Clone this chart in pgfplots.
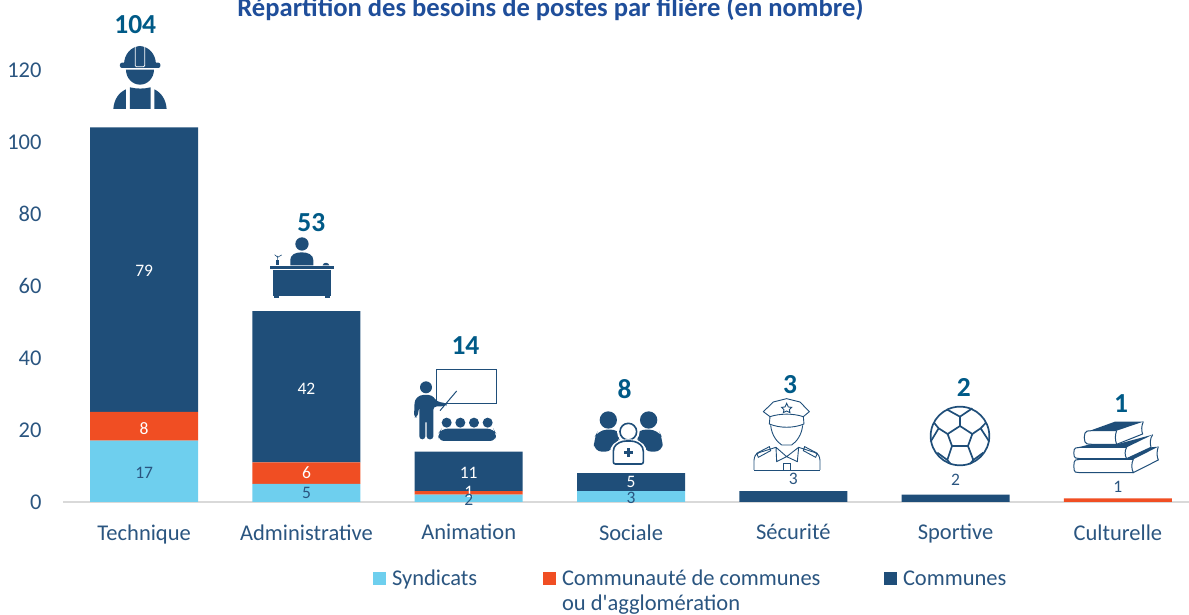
\documentclass[border=0pt]{standalone}
\usepackage{pgfplots}
\pgfplotsset{compat=1.18}
\usepackage{fontspec}
\setmainfont{Carlito}[Ligatures=TeXOff]
\definecolor{dkb}{HTML}{1F4E79}
\definecolor{org}{HTML}{F04E23}
\definecolor{ltb}{HTML}{6ECFEE}
\definecolor{ttl}{HTML}{1F4E9A}
\definecolor{tot}{HTML}{005A87}
\definecolor{txt}{HTML}{2A5580}
\definecolor{axg}{HTML}{D9D9D9}
\pgfplotsset{
  /pgfplots/sqlegend/.style={legend image code/.code={\fill[##1] (0pt,-6.5pt) rectangle (13pt,6.5pt);}}
}
\newcommand{\lab}[4]{\node[text=#4,font=\fontsize{17.5}{17}\selectfont,inner sep=0pt] at (axis cs:#1,#2) {#3};}
\newcommand{\total}[3]{\node[text=tot,font=\fontsize{27.5}{27}\selectfont\bfseries,inner sep=0pt] at (axis cs:#1,#2) {#3};}
\begin{document}
\begin{tikzpicture}[x=1pt,y=1pt]
\useasboundingbox (0,0) rectangle (1189,614);
\begin{axis}[
  at={(63pt,112.1pt)},anchor=south west,
  /pgf/number format/assume math mode=true,
  scale only axis,width=1126pt,height=501.5pt,
  ybar stacked,bar width=108pt,
  xmin=-0.5,xmax=6.438,ymin=0,ymax=139.3,
  clip=false,
  xtick={0,1,2,3,4,5,6},
  xticklabels={Technique,Administrative,Animation,Sociale,Sécurité,Sportive,Culturelle},
  ytick={0,20,40,60,80,100,120},
  tick style={draw=none},
  axis y line*=left,axis x line*=bottom,
  y axis line style={draw=none},
  x axis line style={draw=axg,line width=1.2pt,-},
  xticklabel style={text=txt,font=\fontsize{22.5}{22}\selectfont,yshift=-19pt},
  yticklabel style={text=txt,font=\fontsize{22.5}{22}\selectfont,xshift=-18pt},
  legend columns=3,
  legend cell align=left,
  legend style={draw=none,fill=none,inner sep=0pt,outer sep=0pt,anchor=north west,
    at={(310pt,-68pt)},
    font=\fontsize{22.5}{23}\selectfont,text=txt,
    nodes={inner sep=0pt},
    /tikz/every odd column/.append style={column sep=6pt}},
  area legend,sqlegend,
]
\addplot[fill=ltb,draw=none] coordinates {(0,17)(1,5)(2,2)(3,3)(4,0)(5,0)(6,0)};
\addplot[fill=org,draw=none] coordinates {(0,8)(1,6)(2,1)(3,0)(4,0)(5,0)(6,1)};
\addplot[fill=dkb,draw=none] coordinates {(0,79)(1,42)(2,11)(3,5)(4,3)(5,2)(6,0)};
\legend{\parbox[t]{151pt}{Syndicats},\parbox[t]{322pt}{Communauté de communes\\[2pt]ou d'agglomération},Communes}
\end{axis}
\begin{axis}[
  at={(63pt,112.1pt)},anchor=south west,
  scale only axis,width=1126pt,height=501.5pt,
  hide axis,clip=false,
  xmin=-0.5,xmax=6.438,ymin=0,ymax=139.3,
]
\addplot[draw=none,forget plot] coordinates {(0,0)(6,0)};
\lab{0}{64.1}{79}{white}
\lab{0}{8}{17}{txt}
\lab{0}{20.5}{8}{white}
\lab{1}{31.5}{42}{white}
\lab{1}{2.6}{5}{txt}
\lab{1}{8}{6}{white}
\lab{2}{8}{11}{white}
\lab{2}{2.8}{1}{white}
\lab{2}{0.6}{2}{txt}
\lab{3}{5.5}{5}{white}
\lab{3}{1.2}{3}{txt}
\lab{4}{6.5}{3}{txt}
\lab{5}{6}{2}{txt}
\lab{6}{4.3}{1}{txt}
\total{-0.055}{132.5}{104}
\total{1.03}{77.5}{53}
\total{1.98}{43.4}{14}
\total{2.96}{31.3}{8}
\total{3.98}{32.6}{3}
\total{5.05}{31.8}{2}
\total{6.02}{27.3}{1}
\end{axis}
\node[text=ttl,font=\fontsize{26.6}{27}\selectfont\bfseries,inner sep=0pt] at (550.5,605) {Répartition des besoins de postes par filière (en nombre)};
% Worker
\begin{scope}[shift={(0,614)},x=0.3333pt,y=-0.3333pt]
\fill[dkb] (372,195) .. controls (372,160) and (395,140) .. (420,138) .. controls (445,140) and (468,160) .. (468,195) -- cycle;
\fill[dkb,rounded corners=2pt] (360,188) rectangle (481,204);
\draw[white,line width=0.8pt,rounded corners=1pt] (406,140) -- (406,200) -- (434,200) -- (434,140);
\fill[dkb] (378,209) arc[start angle=180,end angle=0,x radius=42,y radius=45] -- cycle;
\fill[dkb] (340,327) .. controls (342,300) and (355,278) .. (378,268) -- (378,327) -- cycle;
\fill[dkb] (390,262) .. controls (410,267) and (432,267) .. (452,262) -- (452,327) -- (390,327) -- cycle;
\fill[dkb] (500,327) .. controls (498,300) and (485,278) .. (463,268) -- (463,327) -- cycle;
% Desk
\fill[dkb] (906,732) circle[radius=20];
\fill[dkb] (871,796) -- (871,780) .. controls (871,765) and (885,757) .. (905,757) .. controls (925,757) and (940,765) .. (940,780) -- (940,796) -- cycle;
\fill[dkb] (810,798) rectangle (1002,806);
\fill[dkb] (818,810) rectangle (994,888);
\fill[dkb] (822,888) rectangle (836,893);
\fill[dkb] (976,888) rectangle (990,893);
\fill[dkb] (828,780) rectangle (838,796);
\draw[dkb,line width=0.6pt] (833,780) -- (833,768) (833,772) -- (824,764) (833,772) -- (845,765);
\fill[dkb] (968,796) .. controls (970,786) and (986,786) .. (988,796) -- cycle;
\end{scope}
% Animation, Sociale
\begin{scope}[shift={(400,274)},x=0.3333pt,y=-0.3333pt]
\draw[dkb,line width=1pt] (110,90) rectangle (290,192);
\fill[dkb] (78,142) circle[radius=18];
\fill[dkb,rounded corners=3pt] (42,232) -- (44,180) -- (60,165) -- (95,165) -- (112,185) -- (140,190) -- (140,198) -- (100,200) -- (100,298) -- (80,298) -- (80,240) -- (76,240) -- (76,298) -- (58,298) -- (58,200) -- (52,232) -- cycle;
\draw[dkb,line width=1pt] (120,212) -- (170,153);
\foreach \c in {140,181,222,263} \fill[dkb] (\c,248) circle[radius=15];
\fill[dkb,rounded corners=6pt] (115,303) -- (115,280) -- (125,266) -- (280,266) -- (288,280) -- (288,303) -- cycle;
% Sociale
\fill[dkb] (625,240) circle[radius=26];
\fill[dkb] (746,240) circle[radius=26];
\fill[dkb,rounded corners=8pt] (582,335) -- (582,295) -- (595,270) -- (655,268) -- (670,290) -- (640,310) -- (640,335) -- cycle;
\fill[dkb,rounded corners=8pt] (788,335) -- (788,295) -- (775,270) -- (715,268) -- (700,290) -- (730,310) -- (730,335) -- cycle;
\fill[white] (685,275) circle[radius=34];
\draw[dkb,line width=1.6pt] (685,275) circle[radius=25];
\fill[white] (632,372) -- (632,325) .. controls (640,305) and (660,298) .. (685,298) .. controls (710,298) and (730,305) .. (738,325) -- (738,372) -- cycle;
\draw[dkb,line width=1.6pt,rounded corners=2pt] (640,372) -- (640,328) .. controls (648,310) and (665,303) .. (685,303) .. controls (705,303) and (722,310) .. (730,328) -- (730,372) -- cycle;
\fill[dkb] (680,325) rectangle (690,351);
\fill[dkb] (672,333) rectangle (698,343);
\end{scope}
% Police, ball, books
\begin{scope}[shift={(740,254)},x=0.3333pt,y=-0.3333pt]
\draw[dkb,line width=0.9pt,line join=round] (70,155) -- (100,126) -- (140,116) -- (180,126) -- (208,155) -- (190,170) .. controls (160,160) and (120,160) .. (90,170) -- cycle;
\draw[dkb,line width=0.9pt] (90,170) -- (88,192) .. controls (120,205) and (160,205) .. (192,192) -- (190,170);
\draw[dkb,line width=0.9pt] (140,130) -- (145,141) -- (155,142) -- (148,149) -- (150,158) -- (140,153) -- (130,158) -- (132,149) -- (125,142) -- (135,141) -- cycle;
\draw[dkb,line width=0.9pt] (92,196) .. controls (95,225) and (110,245) .. (125,255) -- (155,255) .. controls (170,245) and (185,225) .. (188,196);
\draw[dkb,line width=0.9pt,line join=round] (108,262) -- (110,305) -- (140,290) -- (172,305) -- (176,262) -- (140,290) -- cycle;
\draw[dkb,line width=0.9pt,rounded corners=3pt] (42,330) -- (42,292) -- (50,280) -- (108,262);
\draw[dkb,line width=0.9pt,rounded corners=3pt] (240,330) -- (240,292) -- (232,280) -- (176,262);
\draw[dkb,line width=0.9pt] (42,330) -- (240,330);
\draw[dkb,line width=0.9pt] (50,280) -- (88,260) -- (92,272) -- (55,292) -- cycle;
\draw[dkb,line width=0.9pt] (232,280) -- (194,260) -- (190,272) -- (227,292) -- cycle;
\draw[dkb,line width=0.9pt] (130,310) rectangle (150,330);
% Ball
\draw[dkb,line width=1.7pt] (660,228) circle[radius=88];
\draw[dkb,line width=1.7pt,line join=round] (660,198) -- (697,222) -- (684,258) -- (636,258) -- (623,222) -- cycle;
\draw[dkb,line width=1.7pt] (660,198) -- (660,170) -- (620,148) (660,170) -- (697,145)
  (697,222) -- (722,205) -- (738,188) (722,205) -- (748,245)
  (684,258) -- (700,300) -- (690,312) (700,300) -- (730,278) 
  (636,258) -- (622,300) -- (632,312) (622,300) -- (592,278)
  (623,222) -- (596,205) -- (582,188) (596,205) -- (572,245);
% Books
\fill[dkb] (1050,212) -- (1125,185) -- (1210,185) -- (1130,212) -- cycle;
\draw[dkb,line width=1pt,rounded corners=3pt] (1130,212) -- (1050,212) .. controls (1030,215) and (1030,250) .. (1050,253) -- (1130,253);
\draw[dkb,line width=1pt] (1130,212) .. controls (1125,225) and (1125,240) .. (1130,253) -- (1208,222) .. controls (1204,212) and (1204,198) .. (1210,185);
\fill[dkb] (1015,262) -- (1050,253) -- (1130,253) -- (1238,224) -- (1160,262) -- cycle;
\draw[dkb,line width=1pt,rounded corners=3pt] (1160,262) -- (1015,262) .. controls (1000,266) and (1000,292) .. (1015,296) -- (1160,296);
\draw[dkb,line width=1pt] (1160,262) .. controls (1154,272) and (1154,286) .. (1160,296) -- (1233,262) .. controls (1230,250) and (1230,235) .. (1238,224);
\fill[dkb] (1160,296) -- (1233,262) -- (1255,260) -- (1180,298) -- cycle;
\draw[dkb,line width=1pt,rounded corners=3pt] (1180,298) -- (1015,298) .. controls (1000,302) and (1000,335) .. (1015,338) -- (1180,338);
\draw[dkb,line width=1pt] (1180,298) .. controls (1174,310) and (1174,326) .. (1180,338) -- (1255,300) .. controls (1250,288) and (1250,275) .. (1255,260);
\end{scope}
\end{tikzpicture}
\end{document}
